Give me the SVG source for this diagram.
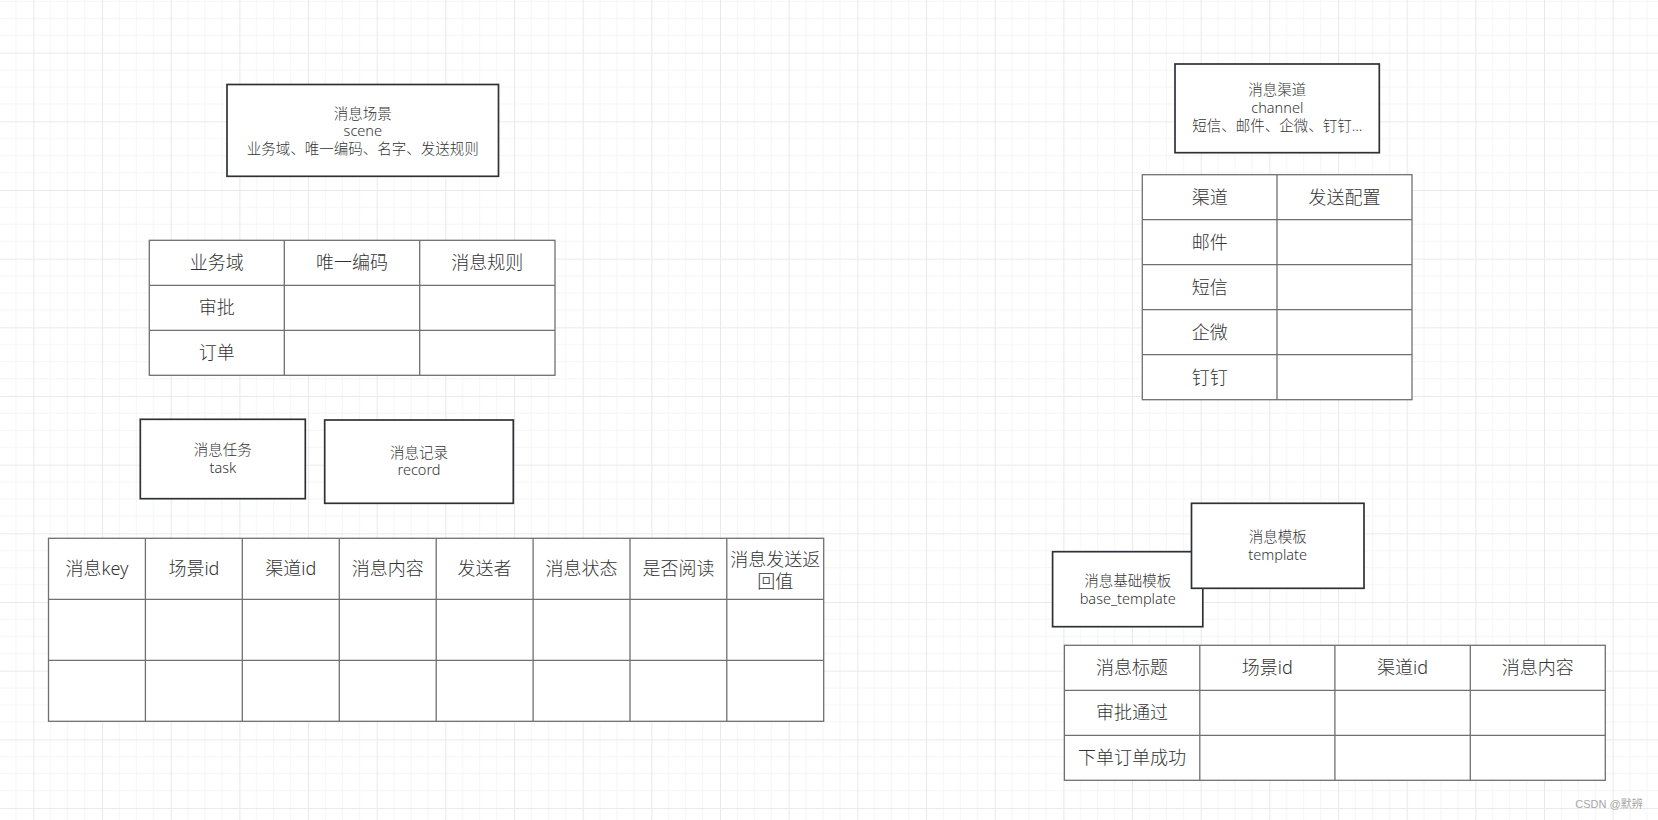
<svg xmlns="http://www.w3.org/2000/svg" width="1658" height="820" viewBox="0 0 1658 820">
<defs>
<pattern id="grid" patternUnits="userSpaceOnUse" x="33.333" y="52.667" width="68.667" height="68.667">
<path d="M17.167 0V68.667M34.333 0V68.667M51.5 0V68.667M0 17.167H68.667M0 34.333H68.667M0 51.5H68.667" stroke="#f5f5f5" stroke-width="1" fill="none"/>
<path d="M0.5 0V68.667M0 0.5H68.667" stroke="#eaeaea" stroke-width="1.2" fill="none"/>
</pattern>
<style>
.box{fill:#fff;stroke:#2e3237;stroke-width:1.7}
.tbl{fill:#fff;stroke:#707070;stroke-width:1.3}
.ln{stroke:#707070;stroke-width:1.3;fill:none}
.nt{font-family:"Noto Sans","Noto Sans CJK SC",sans-serif;font-size:14.5px;font-weight:300;fill:#333;text-anchor:middle}
.tt{font-family:"Noto Sans","Noto Sans CJK SC",sans-serif;font-size:18px;font-weight:300;fill:#333;text-anchor:middle}
.wm{font-family:"Liberation Sans","Noto Sans CJK SC",sans-serif;font-size:11px;fill:#a6a6a6;text-anchor:middle}
</style>
</defs>
<rect width="1658" height="820" fill="#fff"/>
<rect width="1658" height="820" fill="url(#grid)"/>

<g id="connectors"></g>

<g id="scene">
<rect class="box" x="227" y="84.5" width="271.5" height="91.8"/>
<text class="nt" x="362.8" y="118.5">消息场景</text>
<text class="nt" x="362.8" y="136.2">scene</text>
<text class="nt" x="362.8" y="154">业务域、唯一编码、名字、发送规则</text>
</g>

<g id="scene-table">
<rect class="tbl" x="149.3" y="240.3" width="405.7" height="135"/>
<path class="ln" d="M284.3 240.3V375.3M419.7 240.3V375.3M149.3 285.3H555M149.3 330.3H555"/>
<text class="tt" x="216.8" y="269.1">业务域</text>
<text class="tt" x="352" y="269.1">唯一编码</text>
<text class="tt" x="487.3" y="269.1">消息规则</text>
<text class="tt" x="216.8" y="314.1">审批</text>
<text class="tt" x="216.8" y="359.1">订单</text>
</g>

<g id="channel">
<rect class="box" x="1175" y="64" width="204.3" height="88.7"/>
<text class="nt" x="1277.3" y="94.5">消息渠道</text>
<text class="nt" x="1277.3" y="112.5">channel</text>
<text class="nt" x="1277.3" y="131">短信、邮件、企微、钉钉...</text>
</g>

<g id="channel-table">
<rect class="tbl" x="1142.3" y="174.7" width="269.7" height="225"/>
<path class="ln" d="M1277 174.7V399.7M1142.3 219.7H1412M1142.3 264.7H1412M1142.3 309.7H1412M1142.3 354.7H1412"/>
<text class="tt" x="1209.7" y="203.5">渠道</text>
<text class="tt" x="1344.5" y="203.5">发送配置</text>
<text class="tt" x="1209.7" y="248.5">邮件</text>
<text class="tt" x="1209.7" y="293.5">短信</text>
<text class="tt" x="1209.7" y="338.5">企微</text>
<text class="tt" x="1209.7" y="383.5">钉钉</text>
</g>

<g id="task">
<rect class="box" x="140.3" y="419.3" width="165" height="79.4"/>
<text class="nt" x="222.8" y="455">消息任务</text>
<text class="nt" x="222.8" y="472.7">task</text>
</g>

<g id="record">
<rect class="box" x="324.7" y="420" width="188.6" height="83.3"/>
<text class="nt" x="419" y="457.7">消息记录</text>
<text class="nt" x="419" y="475.2">record</text>
</g>

<g id="record-table">
<rect class="tbl" x="48.5" y="538.3" width="775.2" height="183"/>
<path class="ln" d="M145.4 538.3V721.3M242.3 538.3V721.3M339.3 538.3V721.3M436.2 538.3V721.3M533.1 538.3V721.3M630 538.3V721.3M726.8 538.3V721.3M48.5 599.3H823.7M48.5 660.3H823.7"/>
<text class="tt" x="97" y="575.2">消息key</text>
<text class="tt" x="193.9" y="575.2">场景id</text>
<text class="tt" x="290.8" y="575.2">渠道id</text>
<text class="tt" x="387.7" y="575.2">消息内容</text>
<text class="tt" x="484.6" y="575.2">发送者</text>
<text class="tt" x="581.5" y="575.2">消息状态</text>
<text class="tt" x="678.4" y="575.2">是否阅读</text>
<text class="tt" x="775.2" y="565.6">消息发送返</text>
<text class="tt" x="775.2" y="588">回值</text>
</g>

<g id="base-template">
<rect class="box" x="1052.6" y="551.7" width="150.2" height="75"/>
<text class="nt" x="1127.7" y="586">消息基础模板</text>
<text class="nt" x="1127.7" y="603.8">base_template</text>
</g>

<g id="template">
<rect class="box" x="1191.5" y="503.3" width="172.5" height="85"/>
<text class="nt" x="1277.7" y="541.8">消息模板</text>
<text class="nt" x="1277.7" y="560">template</text>
</g>

<g id="template-table">
<rect class="tbl" x="1064.4" y="645.3" width="540.9" height="135"/>
<path class="ln" d="M1199.8 645.3V780.3M1334.9 645.3V780.3M1470.3 645.3V780.3M1064.4 690.3H1605.3M1064.4 735.3H1605.3"/>
<text class="tt" x="1132.1" y="674.1">消息标题</text>
<text class="tt" x="1267.3" y="674.1">场景id</text>
<text class="tt" x="1402.6" y="674.1">渠道id</text>
<text class="tt" x="1537.8" y="674.1">消息内容</text>
<text class="tt" x="1132.1" y="719.1">审批通过</text>
<text class="tt" x="1132.1" y="764.1">下单订单成功</text>
</g>

<text class="wm" x="1609" y="808">CSDN @默辨</text>
</svg>
